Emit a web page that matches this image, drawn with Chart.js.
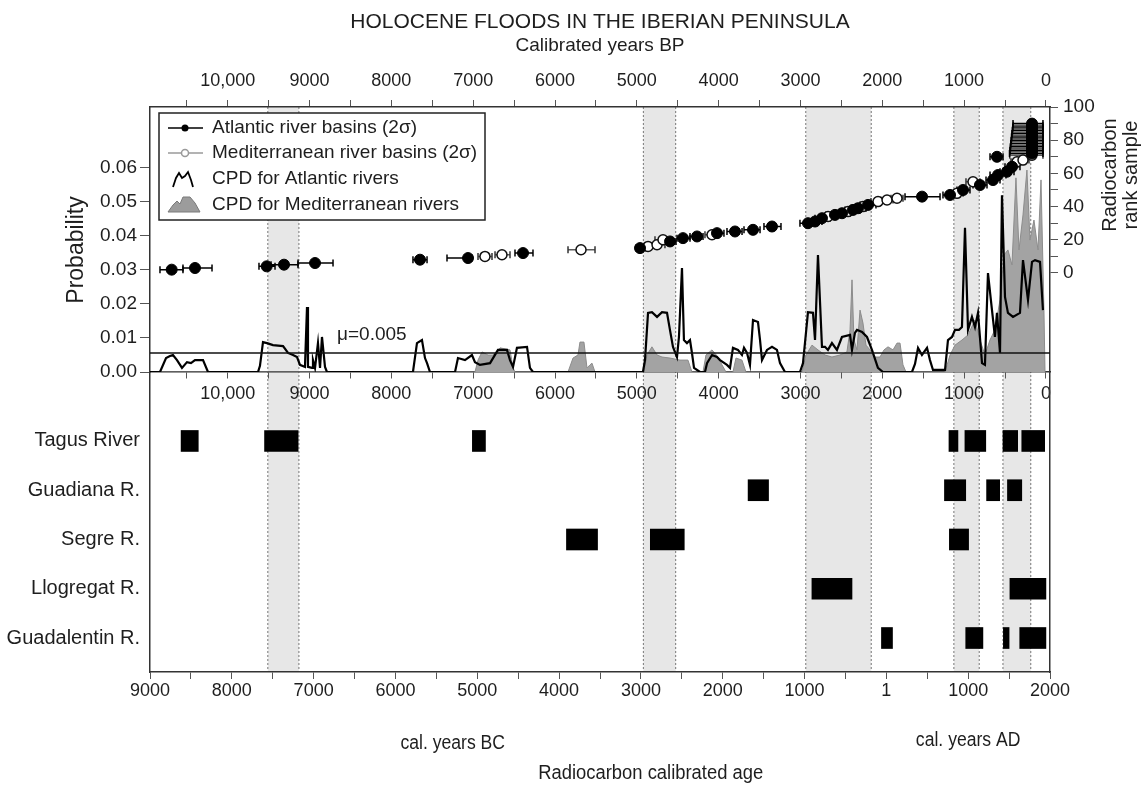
<!DOCTYPE html>
<html>
<head>
<meta charset="utf-8">
<title>Holocene floods in the Iberian Peninsula</title>
<script src="https://cdn.jsdelivr.net/npm/chart.js@4.4.1/dist/chart.umd.min.js"></script>
<style>
  html, body { margin: 0; padding: 0; background: #fff; }
  #wrap { position: relative; width: 1143px; height: 785px; }
</style>
</head>
<body>
<div id="wrap"><canvas id="chart"></canvas></div>
<script>
// --- DATA (calendar years: negative = BC) ---
const rivers = ['Tagus River', 'Guadiana R.', 'Segre R.', 'Llogregat R.', 'Guadalentin R.'];
const tagusFloods = [[-8620, -8410], [-7600, -7190], [-5060, -4900], [765, 875], [960, 1215], [1425, 1605], [1655, 1935]];
const guadianaFloods = [[-1690, -1440], [710, 970], [1225, 1385], [1480, 1655]];
const segreFloods = [[-3910, -3530], [-2885, -2470], [770, 1005]];
const llogregatFloods = [[-910, -420], [1510, 1950]];
const guadalentinFloods = [[-60, 75], [970, 1180], [1430, 1500], [1630, 1950]];

// grey flood periods
const bandStart = [-7560, -2970, -985, 825, 1425];
const bandEnd = [-7180, -2575, -185, 1135, 1765];

// radiocarbon rank samples (2 sigma ranges)
const atlYear = [-8735, -8450, -7574, -7362, -6983, -5700, -5113, -4441, -3011, -2644, -2486, -2314, -2070, -1850, -1630, -1398,
  -958, -872, -787, -628, -542, -408, -347, -224, 436, 778, 937, 1144, 1303, 1364, 1474, 1536, 1352,
  1780, 1780, 1780, 1780, 1780, 1780, 1780, 1780, 1780, 1780];
const atlRank = [2, 3, 4, 5, 6, 8, 9, 12, 15, 19, 21, 22, 24, 25, 26, 28,
  30, 31, 33, 35, 36, 38, 39, 41, 46, 47, 50, 53, 56, 59, 61, 64, 70,
  72, 74, 76, 78, 80, 82, 84, 86, 88, 90];
const atlLo = [-8878, -8597, -7668, -7521, -7191, -5786, -5370, -4539, -3060, -2718, -2559, -2400, -2143, -1948, -1740, -1496,
  -1056, -958, -872, -738, -640, -506, -432, -322, 228, 692, 863, 1059, 1218, 1267, 1389, 1450, 1267,
  1505, 1510, 1515, 1520, 1525, 1530, 1535, 1540, 1545, 1548];
const atlHi = [-8597, -8242, -7472, -7191, -6763, -5614, -5064, -4319, -2938, -2571, -2400, -2241, -1985, -1764, -1544, -1288,
  -872, -787, -689, -530, -444, -322, -249, -127, 656, 863, 1022, 1230, 1389, 1462, 1560, 1633, 1426,
  1914, 1914, 1914, 1914, 1914, 1914, 1914, 1914, 1914, 1914];

const medYear = [-4906, -4698, -3732, -2913, -2803, -2730, -2131, -713, -469, -286, -102, 8, 130, 863, 1059, 1597, 1670,
  1780, 1780, 1780, 1780, 1780, 1780, 1780, 1780, 1780, 1780];
const medRank = [10, 11, 14, 16, 17, 20, 23, 34, 37, 40, 43, 44, 45, 48, 55, 67, 68,
  71, 73, 75, 77, 79, 81, 83, 85, 87, 89];
const medLo = [-4991, -4783, -3891, -3011, -2901, -2828, -2217, -799, -555, -371, -188, -66, 57, 790, 973, 1523, 1597,
  1508, 1512, 1518, 1522, 1528, 1532, 1538, 1542, 1546, 1550];
const medHi = [-4820, -4600, -3561, -2816, -2706, -2632, -2046, -628, -384, -200, -17, 81, 203, 937, 1144, 1670, 1743,
  1914, 1914, 1914, 1914, 1914, 1914, 1914, 1914, 1914, 1914];

// cumulative probability density, vertices [year, probability]
const atlCpd = [[-9000, 0], [-8878, 0], [-8804, 0.0041], [-8756, 0.0047], [-8719, 0.005], [-8670, 0.0035], [-8609, 0.0012],
  [-8548, 0.0029], [-8499, 0.0026], [-8450, 0.0035], [-8352, 0.0035], [-8291, 0], [-7680, 0], [-7656, 0.0018], [-7619, 0.0088],
  [-7570, 0.0085], [-7497, 0.0079], [-7374, 0.0076], [-7313, 0.0056], [-7252, 0.005], [-7203, 0.0044], [-7167, 0.0021],
  [-7106, 0.0015], [-7081, 0.0191], [-7069, 0.0015], [-7020, 0.0012], [-7008, 0.0035], [-6983, 0.0012], [-6947, 0.0085],
  [-6922, 0.0012], [-6898, 0.0103], [-6861, 0.0015], [-6837, 0], [-5786, 0], [-5737, 0.0085], [-5676, 0.0094], [-5639, 0.0041],
  [-5614, 0.0026], [-5578, 0], [-5272, 0], [-5236, 0.0041], [-5150, 0.0035], [-5065, 0.005], [-5028, 0.0029], [-4967, 0.0021],
  [-4844, 0.0026], [-4747, 0.0065], [-4637, 0.0065], [-4600, 0.0035], [-4563, 0.0015], [-4515, 0.0071], [-4392, 0.0074],
  [-4356, 0.0012], [-4319, 0], [-2975, 0], [-2950, 0.0035], [-2913, 0.0174], [-2865, 0.0176], [-2803, 0.0162], [-2742, 0.0176],
  [-2681, 0.0174], [-2645, 0.0124], [-2608, 0.0074], [-2559, 0.0044], [-2535, 0.0103], [-2498, 0.0306], [-2474, 0.0094],
  [-2437, 0.0085], [-2400, 0.0094], [-2376, 0.0056], [-2351, 0.0012], [-2278, 0], [-2217, 0], [-2192, 0.0026], [-2131, 0.005],
  [-2070, 0.0044], [-2033, 0.0035], [-1948, 0.0021], [-1911, 0.0012], [-1875, 0.0071], [-1814, 0.0065], [-1765, 0.005],
  [-1740, 0.0071], [-1703, 0.0056], [-1667, 0.0021], [-1630, 0.0153], [-1569, 0.0147], [-1544, 0.0094], [-1520, 0.0035],
  [-1459, 0.0065], [-1398, 0.0074], [-1337, 0.0065], [-1300, 0.0026], [-1239, 0], [-1056, 0], [-1019, 0.0026], [-958, 0.0176],
  [-897, 0.0174], [-872, 0.0094], [-836, 0.0344], [-787, 0.0074], [-750, 0.0074], [-714, 0.0065], [-665, 0.0085], [-604, 0.0065],
  [-543, 0.0103], [-444, 0.0109], [-420, 0.0065], [-384, 0.0115], [-359, 0.0124], [-298, 0.0118], [-237, 0.0103], [-176, 0.0065],
  [-103, 0.0012], [-41, 0], [313, 0], [350, 0.0024], [387, 0.0071], [435, 0.005], [497, 0.0071], [533, 0.0035], [570, 0.0006],
  [717, 0.0006], [753, 0.0094], [802, 0.0103], [839, 0.0124], [888, 0.0124], [924, 0.0132], [961, 0.0424], [998, 0.0124],
  [1046, 0.0162], [1083, 0.0132], [1120, 0.0174], [1169, 0.0026], [1205, 0.0021], [1242, 0.0291], [1291, 0.0182], [1327, 0.0103],
  [1352, 0.0174], [1389, 0.0056], [1413, 0.052], [1450, 0.0221], [1486, 0.0174], [1548, 0.0162], [1633, 0.0174], [1670, 0.0329],
  [1731, 0.0212], [1780, 0.0324], [1817, 0.0329], [1878, 0.0324], [1914, 0.0182]];

const medCpd = [[-9000, 0], [-5028, 0], [-4991, 0.0035], [-4942, 0.0059], [-4869, 0.005], [-4808, 0.005], [-4722, 0.0071],
  [-4600, 0.0065], [-4563, 0.0012], [-4539, 0], [-3891, 0], [-3830, 0.0041], [-3769, 0.005], [-3745, 0.0088], [-3696, 0.0088],
  [-3659, 0.0012], [-3622, 0.0021], [-3598, 0.0026], [-3561, 0], [-2962, 0], [-2926, 0.005], [-2865, 0.0074], [-2803, 0.005],
  [-2742, 0.0044], [-2645, 0.0041], [-2523, 0.0035], [-2425, 0.0035], [-2376, 0], [-2241, 0], [-2205, 0.005], [-2131, 0.0065],
  [-2058, 0.0044], [-2009, 0.0021], [-1960, 0], [-1875, 0], [-1838, 0.0041], [-1765, 0.0035], [-1716, 0], [-1031, 0],
  [-982, 0.005], [-909, 0.0079], [-836, 0.0065], [-750, 0.005], [-665, 0.0044], [-567, 0.005], [-482, 0.0059], [-444, 0.0124],
  [-420, 0.0271], [-396, 0.0094], [-359, 0.0065], [-322, 0.0182], [-286, 0.0144], [-249, 0.0079], [-200, 0.0065], [-139, 0.0044],
  [-78, 0.0044], [-29, 0.0065], [20, 0.0074], [81, 0.0065], [130, 0.0085], [167, 0.0085], [203, 0.0021], [240, 0], [717, 0],
  [778, 0.005], [839, 0.0079], [924, 0.0094], [998, 0.0109], [1083, 0.0153], [1144, 0.0094], [1205, 0.005], [1266, 0.0094],
  [1327, 0.0124], [1389, 0.0212], [1438, 0.0344], [1486, 0.0359], [1535, 0.0315], [1584, 0.0571], [1621, 0.0359], [1670, 0.0462],
  [1718, 0.0594], [1755, 0.0388], [1804, 0.0447], [1853, 0.0359], [1890, 0.0565], [1926, 0.0182], [1939, 0]];

const mu = 0.0056; // drawn level of the mean line
const muLabel = 'μ=0.005';

// ticks
const calTicks = [-9000, -8500, -8000, -7500, -7000, -6500, -6000, -5500, -5000, -4500, -4000, -3500, -3000, -2500,
  -2000, -1500, -1000, -500, 0, 500, 1000, 1500, 2000];
const calLabelValues = [-9000, -8000, -7000, -6000, -5000, -4000, -3000, -2000, -1000, 0, 1000, 2000];
const calLabels = ['9000', '8000', '7000', '6000', '5000', '4000', '3000', '2000', '1000', '1', '1000', '2000'];
const bpTicks = [10500, 10000, 9500, 9000, 8500, 8000, 7500, 7000, 6500, 6000, 5500, 5000, 4500, 4000, 3500, 3000,
  2500, 2000, 1500, 1000, 500, 0];
const bpLabelValues = [10000, 9000, 8000, 7000, 6000, 5000, 4000, 3000, 2000, 1000, 0];
const bpLabels = ['10,000', '9000', '8000', '7000', '6000', '5000', '4000', '3000', '2000', '1000', '0'];
const probTicks = [0, 0.01, 0.02, 0.03, 0.04, 0.05, 0.06];
const rankTicks = [0, 10, 20, 30, 40, 50, 60, 70, 80, 90, 100];
const rankLabelValues = [0, 20, 40, 60, 80, 100];

// --- HELPERS ---
const SANS = "'Liberation Sans', Arial, sans-serif";
const INK = '#1e1e1e';

function errorSegments(lo, hi, rank) {
  const pts = [];
  for (let i = 0; i < rank.length; i++) {
    pts.push({ x: lo[i], y: rank[i] }, { x: hi[i], y: rank[i] }, { x: hi[i], y: null });
  }
  return pts;
}
const toXY = (pairs) => pairs.map(p => ({ x: p[0], y: p[1] }));
const floodBars = [tagusFloods, guadianaFloods, segreFloods, llogregatFloods, guadalentinFloods]
  .flatMap((list, row) => list.map(f => ({ x: f, y: row })));
const setTicks = (values) => (scale) => { scale.ticks = values.map(v => ({ value: v })); };

// narrow-looking text: squeeze horizontally
function squeezedText(ctx, text, x, y, sx) {
  ctx.save();
  ctx.translate(x, y);
  ctx.scale(sx, 1);
  ctx.fillText(text, 0, 0);
  ctx.restore();
}

// --- PLUGIN: bands, legend, free texts ---
const decorations = {
  id: 'decorations',
  beforeDraw(chart) {
    const { ctx, chartArea: a, scales: { x } } = chart;
    ctx.save();
    for (let i = 0; i < bandStart.length; i++) {
      const x1 = x.getPixelForValue(bandStart[i]);
      const x2 = x.getPixelForValue(bandEnd[i]);
      ctx.fillStyle = '#e7e7e7';
      ctx.fillRect(x1, a.top, x2 - x1, a.bottom - a.top);
      ctx.strokeStyle = '#777';
      ctx.lineWidth = 1;
      ctx.setLineDash([2, 2]);
      [x1, x2].forEach(px => {
        ctx.beginPath(); ctx.moveTo(px, a.top); ctx.lineTo(px, a.bottom); ctx.stroke();
      });
    }
    ctx.restore();
  },
  afterDraw(chart) {
    const { ctx, scales: { x, yProb } } = chart;
    ctx.save();
    ctx.fillStyle = INK;
    ctx.textBaseline = 'middle';

    // mu label
    ctx.font = `19px ${SANS}`;
    ctx.textAlign = 'left';
    ctx.fillText(muLabel, x.getPixelForValue(-6714), yProb.getPixelForValue(0.0109));

    // era labels and axis caption
    ctx.font = `20px ${SANS}`;
    ctx.textAlign = 'center';
    squeezedText(ctx, 'cal. years BC', x.getPixelForValue(-5300), 743, 0.88);
    squeezedText(ctx, 'cal. years AD', x.getPixelForValue(1000), 740, 0.88);
    squeezedText(ctx, 'Radiocarbon calibrated age', x.getPixelForValue(-2880), 773, 0.92);

    // left title
    ctx.font = `23px ${SANS}`;
    ctx.save(); ctx.translate(77, 250); ctx.rotate(-Math.PI / 2); ctx.fillText('Probability', 0, 0); ctx.restore();
    // right title
    ctx.font = `20px ${SANS}`;
    ctx.save(); ctx.translate(1110, 175); ctx.rotate(-Math.PI / 2); ctx.fillText('Radiocarbon', 0, 0); ctx.restore();
    ctx.save(); ctx.translate(1131, 175); ctx.rotate(-Math.PI / 2); ctx.fillText('rank sample', 0, 0); ctx.restore();

    // legend box
    ctx.fillStyle = '#fff';
    ctx.fillRect(159, 113, 326, 107);
    ctx.strokeStyle = '#222';
    ctx.lineWidth = 1.5;
    ctx.strokeRect(159, 113, 326, 107);

    ctx.lineWidth = 1.5;
    ctx.strokeStyle = '#000';
    ctx.beginPath(); ctx.moveTo(168, 128); ctx.lineTo(203, 128); ctx.stroke();
    ctx.fillStyle = '#000';
    ctx.beginPath(); ctx.arc(185, 128, 3.5, 0, Math.PI * 2); ctx.fill();

    ctx.strokeStyle = '#9a9a9a';
    ctx.beginPath(); ctx.moveTo(168, 153); ctx.lineTo(203, 153); ctx.stroke();
    ctx.fillStyle = '#fff';
    ctx.beginPath(); ctx.arc(185, 153, 3.5, 0, Math.PI * 2); ctx.fill(); ctx.stroke();

    ctx.strokeStyle = '#000';
    ctx.lineWidth = 1.8;
    ctx.beginPath();
    [[173, 187], [176, 178], [179, 173], [182, 178], [185, 176], [188, 172], [191, 180], [193, 187]]
      .forEach((p, i) => i ? ctx.lineTo(p[0], p[1]) : ctx.moveTo(p[0], p[1]));
    ctx.stroke();

    ctx.fillStyle = '#9c9c9c';
    ctx.strokeStyle = '#7a7a7a';
    ctx.lineWidth = 1;
    ctx.beginPath();
    [[168, 212], [173, 205], [177, 201], [180, 204], [183, 197], [190, 197], [195, 203], [200, 212]]
      .forEach((p, i) => i ? ctx.lineTo(p[0], p[1]) : ctx.moveTo(p[0], p[1]));
    ctx.closePath(); ctx.fill(); ctx.stroke();

    ctx.fillStyle = INK;
    ctx.font = `19px ${SANS}`;
    ctx.textAlign = 'left';
    ctx.fillText('Atlantic river basins (2σ)', 212, 128);
    ctx.fillText('Mediterranean river basins (2σ)', 212, 153);
    ctx.fillText('CPD for Atlantic rivers', 212, 179);
    ctx.fillText('CPD for Mediterranean rivers', 212, 205);
    ctx.restore();
  }
};

// --- CHART ---
Chart.defaults.font.family = SANS;
Chart.defaults.color = INK;

const axisBorder = { color: '#333', width: 1.5 };

new Chart(document.getElementById('chart'), {
  type: 'line',
  data: {
    datasets: [
      { label: 'Atlantic river basins (2σ)', data: atlYear.map((v, i) => ({ x: v, y: atlRank[i] })),
        xAxisID: 'x', yAxisID: 'yRank', showLine: false,
        pointRadius: 5.5, pointBackgroundColor: '#000', pointBorderColor: '#000', pointBorderWidth: 1 },
      { label: 'Mediterranean river basins (2σ)', data: medYear.map((v, i) => ({ x: v, y: medRank[i] })),
        xAxisID: 'x', yAxisID: 'yRank', showLine: false,
        pointRadius: 5, pointBackgroundColor: '#fff', pointBorderColor: '#111', pointBorderWidth: 1.5 },
      { label: 'atl 2σ', data: errorSegments(atlLo, atlHi, atlRank), xAxisID: 'x', yAxisID: 'yRank',
        borderColor: '#000', borderWidth: 1.5, spanGaps: false,
        pointStyle: 'line', pointRotation: 90, pointRadius: 3.5, pointBorderWidth: 1.5, pointBorderColor: '#000' },
      { label: 'med 2σ', data: errorSegments(medLo, medHi, medRank), xAxisID: 'x', yAxisID: 'yRank',
        borderColor: '#5a5a5a', borderWidth: 1.5, spanGaps: false,
        pointStyle: 'line', pointRotation: 90, pointRadius: 3.5, pointBorderWidth: 1.5, pointBorderColor: '#333' },
      { label: 'mu', data: [{ x: -9000, y: mu }, { x: 2000, y: mu }], xAxisID: 'x', yAxisID: 'yProb',
        borderColor: '#111', borderWidth: 1.5, pointRadius: 0 },
      { label: 'CPD for Atlantic rivers', data: toXY(atlCpd), xAxisID: 'x', yAxisID: 'yProb',
        borderColor: '#000', borderWidth: 2.2, pointRadius: 0, tension: 0 },
      { label: 'CPD for Mediterranean rivers', data: toXY(medCpd), xAxisID: 'x', yAxisID: 'yProb',
        borderColor: '#8c8c8c', borderWidth: 1, backgroundColor: '#a3a3a3', fill: 'origin', pointRadius: 0, tension: 0 },
      { type: 'bar', label: 'floods', data: floodBars, indexAxis: 'y', xAxisID: 'x', yAxisID: 'yRiver',
        backgroundColor: '#000', borderWidth: 0, barThickness: 21 }
    ]
  },
  options: {
    responsive: true,
    maintainAspectRatio: false,
    animation: false,
    events: [],
    layout: { padding: 0 },
    plugins: {
      legend: { display: false },
      tooltip: { enabled: false },
      title: { display: true, fullSize: false, text: 'HOLOCENE FLOODS IN THE IBERIAN PENINSULA', color: INK,
        font: { size: 21, weight: 'normal' }, padding: { top: 9.4, bottom: 0 } }
    },
    scales: {
      x: {
        type: 'linear', position: 'bottom', min: -9000, max: 2000,
        afterBuildTicks: setTicks(calTicks),
        afterFit: (s) => { s.height = 113; },
        ticks: { autoSkip: false, maxRotation: 0, minRotation: 0, padding: 1, font: { size: 18 },
          callback: (v) => { const i = calLabelValues.indexOf(v); return i < 0 ? '' : calLabels[i]; } },
        grid: { drawOnChartArea: false, tickLength: 7, color: '#555' },
        border: axisBorder
      },
      xTop: {
        type: 'linear', axis: 'x', position: 'top', reverse: true, min: -50, max: 10950,
        afterBuildTicks: setTicks(bpTicks),
        afterFit: (s) => { s.height = 107 - 34.6; },
        ticks: { autoSkip: false, maxRotation: 0, minRotation: 0, padding: 8, font: { size: 18 },
          callback: (v) => { const i = bpLabelValues.indexOf(v); return i < 0 ? '' : bpLabels[i]; } },
        grid: { drawOnChartArea: false, tickLength: 7, color: '#555' },
        border: axisBorder,
        title: { display: true, text: 'Calibrated years BP', font: { size: 19 }, padding: { top: 0, bottom: 0 } }
      },
      xMid: {
        type: 'linear', axis: 'x', position: { yProb: 0 }, reverse: true, min: -50, max: 10950,
        afterBuildTicks: setTicks(bpTicks),
        ticks: { autoSkip: false, maxRotation: 0, minRotation: 0, padding: 5, font: { size: 18 },
          callback: (v) => { const i = bpLabelValues.indexOf(v); return i < 0 ? '' : bpLabels[i]; } },
        grid: { drawOnChartArea: false, tickLength: 6, color: '#555' },
        border: axisBorder
      },
      yRiver: {
        type: 'linear', position: 'left', stack: 'left', stackWeight: 300, reverse: true, min: -1.4, max: 4.69,
        offset: false,
        afterBuildTicks: setTicks([0, 1, 2, 3, 4]),
        afterFit: (s) => { s.width = 150; },
        ticks: { padding: 10, font: { size: 20 }, callback: (v) => rivers[v] },
        grid: { drawOnChartArea: false, drawTicks: false, offset: false },
        border: axisBorder
      },
      yProb: {
        type: 'linear', position: 'left', stack: 'left', stackWeight: 265, min: 0, max: 0.07794,
        afterBuildTicks: setTicks(probTicks),
        afterFit: (s) => { s.width = 150; },
        ticks: { padding: 3, font: { size: 19 }, callback: (v) => v.toFixed(2) },
        grid: { drawOnChartArea: false, tickLength: 10, color: '#555' },
        border: axisBorder
      },
      yRank: {
        type: 'linear', position: 'right', min: -240.4, max: 100,
        afterBuildTicks: setTicks(rankTicks),
        afterFit: (s) => { s.width = 93; },
        ticks: { padding: 5, font: { size: 19 }, callback: (v) => rankLabelValues.includes(v) ? String(v) : '' },
        grid: { drawOnChartArea: false, tickLength: 8, color: '#555' },
        border: axisBorder
      }
    }
  },
  plugins: [decorations]
});
</script>
</body>
</html>
